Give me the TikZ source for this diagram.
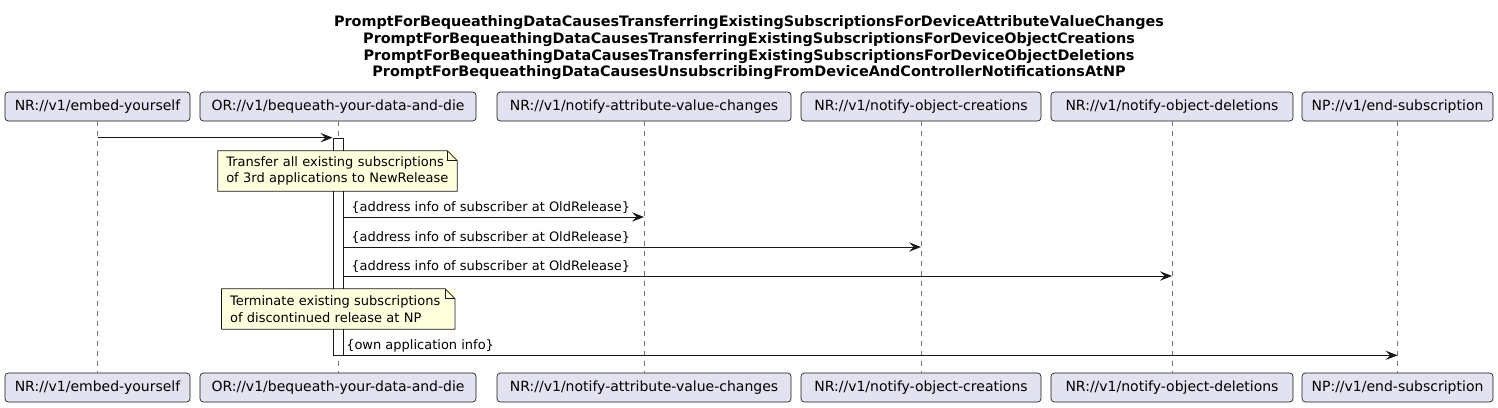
\documentclass[tikz,border=0pt]{standalone}
\usepackage{fontspec}
\setmainfont{DejaVu Sans}
\usetikzlibrary{arrows.meta,positioning,calc}
\definecolor{partfill}{HTML}{E2E2F0}
\definecolor{notefill}{HTML}{FEFFDD}
\definecolor{umlline}{HTML}{181818}

\begin{document}
\begin{tikzpicture}[x=0.75pt, y=-0.75pt,
      font=\fontsize{10.5}{12.5}\selectfont,
      part/.style={draw=umlline, fill=partfill, rounded corners=2.5pt,
                   minimum height=21.75pt, inner sep=0pt, line width=0.5pt},
      life/.style={draw=umlline!60, dash pattern=on 3.75pt off 3.75pt, line width=0.5pt},
      note/.style={fill=notefill, align=left, text width=#1, minimum height=30pt,
                   inner xsep=6.2pt, inner ysep=0pt, font=\fontsize{9.75}{12.5}\selectfont},
      notebox/.style={draw=umlline, line width=0.5pt},
      msg/.style={draw=umlline, line width=0.75pt,
                  -{Stealth[length=9pt, width=7pt, inset=3.5pt]}},
      lbl/.style={anchor=south west, inner sep=0pt, font=\fontsize{9.75}{11}\selectfont},
      >={Stealth[]}]

    \useasboundingbox (0,0) rectangle (1498,407);

    \node[font=\bfseries\fontsize{10.8}{12.5}\selectfont, align=center] (title) at (749,48)
      {PromptForBequeathingDataCausesTransferringExistingSubscriptionsForDeviceAttributeValueChanges\\
       PromptForBequeathingDataCausesTransferringExistingSubscriptionsForDeviceObjectCreations\\
       PromptForBequeathingDataCausesTransferringExistingSubscriptionsForDeviceObjectDeletions\\
       PromptForBequeathingDataCausesUnsubscribingFromDeviceAndControllerNotificationsAtNP};

    % participants, top and bottom
    \node[part, minimum width=138.75pt] (embed)   at (97.5,106.5)  {NR://v1/embed-yourself};
    \node[part, minimum width=207pt]    (bequeath) at (338,106.5)  {OR://v1/bequeath-your-data-and-die};
    \node[part, minimum width=220.5pt]  (attr)    at (644,106.5)   {NR://v1/notify-attribute-value-changes};
    \node[part, minimum width=180pt]    (creat)   at (921,106.5)   {NR://v1/notify-object-creations};
    \node[part, minimum width=181.5pt]  (delet)   at (1172,106.5)  {NR://v1/notify-object-deletions};
    \node[part, minimum width=143.25pt] (endsub)  at (1397.5,106.5) {NP://v1/end-subscription};

    \node[part, minimum width=138.75pt] (embedB)   at (97.5,387.5)  {NR://v1/embed-yourself};
    \node[part, minimum width=207pt]    (bequeathB) at (338,387.5)  {OR://v1/bequeath-your-data-and-die};
    \node[part, minimum width=220.5pt]  (attrB)    at (644,387.5)   {NR://v1/notify-attribute-value-changes};
    \node[part, minimum width=180pt]    (creatB)   at (921,387.5)   {NR://v1/notify-object-creations};
    \node[part, minimum width=181.5pt]  (deletB)   at (1172,387.5)  {NR://v1/notify-object-deletions};
    \node[part, minimum width=143.25pt] (endsubB)  at (1397.5,387.5) {NP://v1/end-subscription};

    \foreach \p in {embed,bequeath,attr,creat,delet,endsub}
      \draw[life] (\p.south) -- (\p B.north);

    % activation of the bequeath service
    \node[draw=umlline, fill=white, line width=0.5pt, minimum width=7.5pt,
          minimum height=162.75pt, inner sep=0pt] (act) at (338,246.5) {};

    \draw[msg] (embed |- act.north) -- (act.north west);

    \node[note=166.85pt] (note1) at (337.5,171)
      {Transfer all existing subscriptions\\of 3rd applications to NewRelease};
    \draw[notebox] (note1.north west) -- ($(note1.north east)+(-10,0)$)
      -- ($(note1.north east)+(0,10)$) -- (note1.south east) -- (note1.south west) -- cycle;
    \draw[notebox] ($(note1.north east)+(-10,0)$) -- ($(note1.north east)+(-10,10)$)
      -- ($(note1.north east)+(0,10)$);

    \draw[msg] (act.east |- 0,217) -- (attr |- 0,217);
    \node[lbl] (l1) at (351,214) {\{address info of subscriber at OldRelease\}};
    \draw[msg] (act.east |- 0,247) -- (creat |- 0,247);
    \node[lbl] (l2) at (351,244) {\{address info of subscriber at OldRelease\}};
    \draw[msg] (act.east |- 0,276) -- (delet |- 0,276);
    \node[lbl] (l3) at (351,273) {\{address info of subscriber at OldRelease\}};

    \node[note=162.35pt] (note2) at (338.3,309)
      {Terminate existing subscriptions\\of discontinued release at NP};
    \draw[notebox] (note2.north west) -- ($(note2.north east)+(-10,0)$)
      -- ($(note2.north east)+(0,10)$) -- (note2.south east) -- (note2.south west) -- cycle;
    \draw[notebox] ($(note2.north east)+(-10,0)$) -- ($(note2.north east)+(-10,10)$)
      -- ($(note2.north east)+(0,10)$);

    \draw[msg] (act.south east) -- (endsub |- act.south);
    \node[lbl] (l4) at (346,352) {\{own application info\}};
  \end{tikzpicture}
\end{document}
